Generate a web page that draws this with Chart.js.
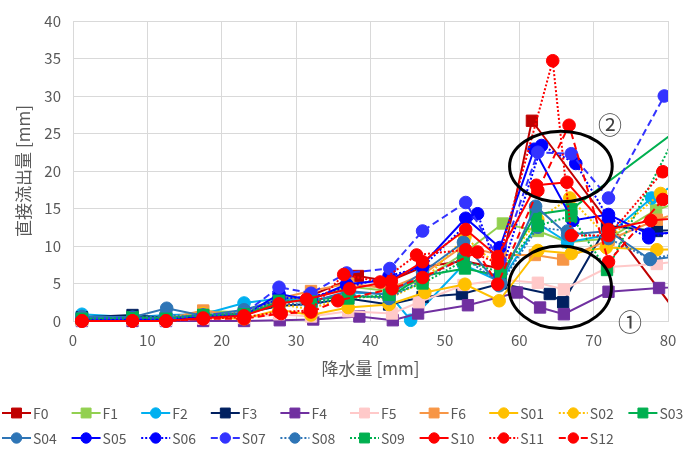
<!DOCTYPE html>
<html><head><meta charset="utf-8">
<script src="https://cdn.jsdelivr.net/npm/chart.js@4.4.0/dist/chart.umd.min.js"></script>
<style>html,body{margin:0;padding:0;background:#fff;}#wrap{width:700px;height:450px;}</style>
</head><body><div id="wrap"><canvas id="c" width="700" height="450"></canvas></div>
<script>
// ---- tick settings ----
const xTicks = [0, 10, 20, 30, 40, 50, 60, 70, 80];
const yTicks = [0, 5, 10, 15, 20, 25, 30, 35, 40];

// ---- series names ----
const seriesNames = ['F0','F1','F2','F3','F4','F5','F6','S01','S02','S03','S04','S05','S06','S07','S08','S09','S10','S11','S12'];

// ---- values (x: 降水量, y: 直接流出量) ----
const F0_x = [1.2, 8, 12.5, 17.5, 23, 27.7, 32, 38.3, 42.5, 47, 52.5, 57.5, 61.7, 82];
const F0_y = [0.1, 0.4, 0.2, 0.6, 0.8, 2.6, 3.4, 6.0, 5.3, 7.2, 8.0, 7.0, 26.7, 0];
const F1_x = [1.2, 8, 12.5, 17.5, 23, 27.7, 32, 37, 42.5, 47, 52.5, 57.8, 62.5, 66.5, 72, 78.4, 85];
const F1_y = [0.2, 0.4, 0.3, 1.3, 1.2, 3.2, 3.0, 4.6, 4.0, 5.5, 9.0, 13.0, 12.0, 10.5, 11.0, 14.8, 17.0];
const F2_x = [1.2, 8, 12.5, 17.5, 23, 27.7, 32, 37, 42.5, 45.4, 52.5, 57.5, 62.5, 66.5, 72, 77.8, 85];
const F2_y = [0.9, 0.5, 0.8, 0.9, 2.4, 3.0, 2.6, 3.8, 3.6, 0.1, 7.5, 5.2, 13.0, 10.5, 11.5, 16.4, 20.5];
const F3_x = [1.2, 8, 12.5, 17.5, 23, 27.7, 32, 37, 42.5, 47, 52.3, 57.5, 64.1, 65.9, 71.8, 78.5, 85];
const F3_y = [0.5, 0.8, 0.4, 0.7, 1.0, 2.0, 2.3, 3.0, 2.2, 3.2, 3.6, 5.0, 3.6, 2.5, 12.7, 12.0, 12.5];
const F4_x = [1.2, 8, 12.5, 17.5, 23, 27.8, 32.3, 38.5, 43, 46.4, 53.1, 59.7, 62.8, 66, 72, 78.8, 85];
const F4_y = [0, 0, 0, 0, 0, 0.1, 0.2, 0.6, 0.1, 1.0, 2.1, 3.8, 1.8, 0.9, 3.9, 4.4, 4.8];
const F5_x = [1.2, 8, 12.5, 17.5, 23, 27.7, 32, 37, 42.9, 46.5, 52.5, 57.5, 62.5, 66, 72, 78.5, 85];
const F5_y = [0.1, 0.2, 0.1, 0.3, 0.4, 0.9, 0.6, 1.3, 1.0, 2.5, 4.8, 5.5, 5.1, 4.2, 7.2, 7.6, 8.4];
const F6_x = [1.2, 8, 12.5, 17.5, 23, 27.7, 32, 37, 42.5, 47, 52.5, 57.5, 62.1, 65.9, 72, 78.5, 85];
const F6_y = [0.2, 0.3, 0.3, 1.4, 0.6, 3.0, 4.0, 5.0, 4.3, 6.2, 10.0, 8.8, 8.8, 8.2, 10.8, 13.5, 15.5];
const S01_x = [1.2, 8, 12.5, 17.5, 23, 27.7, 32, 37, 42.5, 47.3, 52.7, 57.3, 62.5, 67, 71.7, 78.5, 85];
const S01_y = [0.1, 0.2, 0.2, 0.5, 0.3, 1.5, 0.8, 1.8, 2.2, 3.8, 4.9, 2.7, 9.4, 9.0, 9.8, 9.5, 9.7];
const S02_x = [1.2, 8, 12.5, 17.5, 23, 27.7, 32, 37, 42.5, 47, 52.7, 57.5, 62.5, 66.8, 72, 79, 85];
const S02_y = [0.1, 0.3, 0.3, 1.0, 0.9, 2.2, 1.6, 3.4, 3.0, 5.2, 11.2, 7.0, 13.5, 16.4, 11.0, 17.0, 19.5];
const S03_x = [1.2, 8, 12.5, 17.5, 23, 27.7, 32, 37, 42.5, 47, 52.7, 57.5, 62.2, 67, 86];
const S03_y = [0.3, 0.5, 0.4, 0.8, 0.8, 2.5, 2.8, 3.3, 3.2, 6.0, 7.0, 6.0, 14.2, 14.9, 29.0];
const S04_x = [1.2, 8, 12.6, 17.5, 23, 27.7, 32, 37, 42.5, 47, 52.5, 57.3, 62.2, 66.5, 72, 77.6, 85];
const S04_y = [0.6, 0.5, 1.7, 0.7, 1.5, 2.8, 2.5, 4.0, 3.5, 6.5, 10.5, 4.7, 15.3, 11.5, 12.0, 8.2, 9.0];
const S05_x = [1.2, 8, 12.5, 17.5, 23, 27.7, 32, 36.8, 42.5, 47, 52.8, 57.4, 62, 67.2, 72, 77.4, 85];
const S05_y = [0.1, 0.2, 0.2, 0.6, 0.7, 3.6, 2.8, 4.9, 5.5, 7.5, 13.7, 9.8, 22.9, 13.4, 14.2, 11.6, 12.0];
const S06_x = [1.2, 8, 12.5, 17.5, 23, 27.7, 32, 37, 42.5, 47, 54.4, 57.4, 63, 67.6, 72, 77.4, 85];
const S06_y = [0.2, 0.3, 0.3, 0.7, 0.9, 3.0, 3.2, 4.5, 6.0, 7.2, 14.3, 6.0, 23.4, 21.0, 13.7, 11.1, 13.0];
const S07_x = [1.2, 8, 12.5, 17.5, 23, 27.7, 32, 36.8, 42.6, 47, 52.8, 57.4, 62.5, 67, 72, 79.5];
const S07_y = [0.3, 0.4, 0.3, 0.8, 1.0, 4.5, 3.7, 6.4, 7.0, 12.0, 15.8, 8.0, 22.5, 22.3, 16.4, 30.0];
const S08_x = [1.2, 8, 12.5, 17.5, 23, 27.7, 32, 37, 42.5, 47, 52.5, 57.5, 62.5, 66.5, 72, 77.6, 85];
const S08_y = [0.5, 0.3, 0.8, 0.6, 1.2, 2.5, 2.0, 3.5, 3.0, 5.5, 8.5, 5.0, 12.5, 12.0, 11.0, 8.3, 9.6];
const S09_x = [1.2, 8, 12.5, 17.5, 23, 27.7, 32, 37, 42.5, 47, 52.5, 57.5, 62.5, 67, 71.8, 85];
const S09_y = [0.3, 0.4, 0.3, 0.8, 0.9, 2.7, 2.6, 3.0, 3.5, 5.0, 8.0, 6.5, 12.7, 14.0, 6.8, 32.5];
const S10_x = [1.2, 8, 12.5, 17.5, 23, 27.7, 31.4, 37.2, 42.8, 47, 52.8, 57.1, 62.3, 66.4, 72, 77.7, 85];
const S10_y = [0, 0, 0, 0.4, 0.7, 2.3, 2.9, 4.3, 5.3, 7.9, 12.2, 8.6, 18.1, 18.5, 12.2, 13.4, 14.0];
const S11_x = [1.2, 8, 12.5, 17.5, 23, 27.7, 31.9, 36.4, 41.3, 46.2, 52.8, 57.1, 64.5, 67, 72, 79.3];
const S11_y = [0, 0, 0, 0.3, 0.5, 1.2, 1.4, 6.2, 5.2, 8.8, 9.5, 7.7, 34.7, 11.4, 11.4, 19.9];
const S12_x = [1.2, 8, 12.5, 17.5, 23, 28, 32, 35.6, 42.9, 47, 54.4, 57.1, 62.5, 66.7, 72, 79.3];
const S12_y = [0, 0, 0, 0.3, 0.3, 1.0, 1.2, 2.7, 4.3, 5.8, 9.2, 4.9, 17.4, 26.1, 7.9, 16.2];

const seriesX = [F0_x,F1_x,F2_x,F3_x,F4_x,F5_x,F6_x,S01_x,S02_x,S03_x,S04_x,S05_x,S06_x,S07_x,S08_x,S09_x,S10_x,S11_x,S12_x];
const seriesY = [F0_y,F1_y,F2_y,F3_y,F4_y,F5_y,F6_y,S01_y,S02_y,S03_y,S04_y,S05_y,S06_y,S07_y,S08_y,S09_y,S10_y,S11_y,S12_y];

// ---- styles ----
const seriesColors = ['#C00000','#92D050','#00B0F0','#002060','#7030A0','#FFC9C9','#F79646','#FFC000','#FFC000','#00B050','#2E75B6','#0000FF','#0000FF','#3333FF','#2E75B6','#00B050','#FF0000','#FF0000','#FF0000'];
const seriesMarkers = ['rect','rect','circle','rect','rect','rect','rect','circle','circle','rect','circle','circle','circle','circle','circle','rect','circle','circle','circle'];
const seriesLine = ['solid','solid','solid','solid','solid','solid','solid','solid','dot','solid','solid','solid','dot','dash','dot','dot','solid','dot','dash'];
const dashMap = {solid: [], dot: [2, 2], dash: [7, 4]};

// ---- annotations (data coordinates) ----
const ellipses = [
  {cx: 65.6, cy: 20.6, rx: 6.9, ry: 4.7},
  {cx: 65.5, cy: 4.5, rx: 6.9, ry: 5.5}
];
const noteLabels = [
  {text: '②', x: 72.2, y: 26.1},
  {text: '①', x: 74.9, y: -0.1}
];

const FONT = "'Noto Sans CJK JP', 'Noto Sans', sans-serif";
const GREY = '#595959';

const datasets = seriesNames.map((name, i) => {
  const marker = seriesMarkers[i];
  return {
    label: name,
    data: seriesX[i].map((x, k) => ({x: x, y: seriesY[i][k]})),
    showLine: true,
    borderColor: seriesColors[i],
    backgroundColor: seriesColors[i],
    borderWidth: 2,
    borderDash: dashMap[seriesLine[i]],
    pointStyle: marker,
    pointRadius: marker === 'rect' ? 8 : 6.3,
    pointHoverRadius: marker === 'rect' ? 8 : 6.3,
    pointBackgroundColor: seriesColors[i],
    pointBorderColor: seriesColors[i],
    pointBorderWidth: 1,
    tension: 0,
    order: seriesNames.length - i,
    clip: {left: 10, top: 10, right: 0, bottom: 10}
  };
});

const notePlugin = {
  id: 'notes',
  afterDatasetsDraw(chart) {
    const ctx = chart.ctx, xs = chart.scales.x, ys = chart.scales.y;
    ctx.save();
    ctx.strokeStyle = '#000';
    ctx.lineWidth = 3;
    ellipses.forEach(e => {
      const cx = xs.getPixelForValue(e.cx), cy = ys.getPixelForValue(e.cy);
      const rx = Math.abs(xs.getPixelForValue(e.cx + e.rx) - cx);
      const ry = Math.abs(ys.getPixelForValue(e.cy + e.ry) - cy);
      ctx.beginPath();
      ctx.ellipse(cx, cy, rx, ry, 0, 0, Math.PI * 2);
      ctx.stroke();
    });
    ctx.fillStyle = '#404040';
    ctx.font = '24px ' + FONT;
    ctx.textAlign = 'center';
    ctx.textBaseline = 'middle';
    noteLabels.forEach(n => {
      ctx.fillText(n.text, xs.getPixelForValue(n.x), ys.getPixelForValue(n.y));
    });
    ctx.restore();
  }
};

const legendPlugin = {
  id: 'excelLegend',
  afterDraw(chart) {
    const ctx = chart.ctx;
    ctx.save();
    const perRow = 10, pitch = 69.6, left = 2;
    const rowY = [chart.height - 37, chart.height - 12];
    chart.data.datasets.forEach((ds, i) => {
      const row = i < perRow ? 0 : 1;
      const col = row ? i - perRow : i;
      const x0 = left + col * pitch;
      const y = rowY[row];
      ctx.strokeStyle = ds.borderColor;
      ctx.lineWidth = 2;
      ctx.setLineDash(ds.borderDash);
      ctx.beginPath();
      ctx.moveTo(x0, y);
      ctx.lineTo(x0 + 29, y);
      ctx.stroke();
      ctx.setLineDash([]);
      ctx.fillStyle = ds.pointBackgroundColor;
      ctx.strokeStyle = ds.pointBorderColor;
      ctx.lineWidth = 1;
      Chart.helpers.drawPoint(ctx, {pointStyle: ds.pointStyle, rotation: 0, radius: ds.pointStyle === 'rect' ? 7 : 5.2, borderWidth: 1}, x0 + 14.5, y);
      ctx.fillStyle = GREY;
      ctx.font = '14px ' + FONT;
      ctx.textAlign = 'left';
      ctx.textBaseline = 'middle';
      ctx.fillText(ds.label, x0 + 31, y + 1);
    });
    ctx.restore();
  }
};

new Chart(document.getElementById('c'), {
  type: 'scatter',
  data: {datasets: datasets},
  plugins: [notePlugin, legendPlugin],
  options: {
    responsive: false,
    animation: false,
    devicePixelRatio: 1,
    layout: {padding: {left: 0, right: 32, top: 13, bottom: 69}},
    plugins: {legend: {display: false}, tooltip: {enabled: false}},
    scales: {
      x: {
        type: 'linear', min: xTicks[0], max: xTicks[xTicks.length - 1],
        afterBuildTicks: s => { s.ticks = xTicks.map(v => ({value: v})); },
        afterFit: s => { s.height = 60; },
        grid: {color: '#D9D9D9', lineWidth: 1, drawTicks: false},
        border: {color: '#D9D9D9'},
        ticks: {color: GREY, font: {family: FONT, size: 15}, padding: 10},
        title: {display: true, text: '降水量 [mm]', color: GREY, font: {family: FONT, size: 17}, padding: {top: 4, bottom: 2}}
      },
      y: {
        type: 'linear', min: yTicks[0], max: yTicks[yTicks.length - 1],
        afterBuildTicks: s => { s.ticks = yTicks.map(v => ({value: v})); },
        afterFit: s => { s.width = 73; },
        grid: {color: '#D9D9D9', lineWidth: 1, drawTicks: false},
        border: {color: '#D9D9D9'},
        ticks: {color: GREY, font: {family: FONT, size: 15}, padding: 12},
        title: {display: true, text: '直接流出量 [mm]', color: GREY, font: {family: FONT, size: 17}, padding: {top: 13, bottom: 0}}
      }
    }
  }
});
</script>
</body></html>
